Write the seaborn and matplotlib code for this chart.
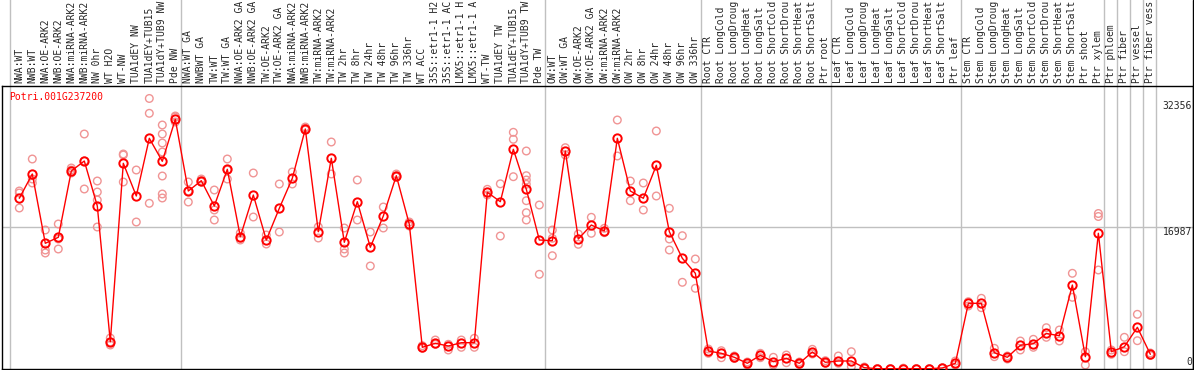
import pandas as pd
import matplotlib
matplotlib.use("Agg")
import matplotlib.pyplot as plt
import seaborn as sns

sns.set_style("white")
plt.rcParams["font.family"] = ["DejaVu Sans Mono"]

gene = "Potri.001G237200"

samples = [
    "NWA:WT", "NWB:WT", "NWA:OE-ARK2", "NWB:OE-ARK2", "NWA:miRNA-ARK2", "NWB:miRNA-ARK2",
    "NW 0hr", "WT H2O", "WT-NW", "TUA1dEY NW", "TUA1dEY+TUB15", "TUA1dY+TUB9 NW", "Pde NW",
    "NWA:WT GA", "NWBWT GA", "TW:WT", "TW:WT GA", "NWA:OE-ARK2 GA", "NWB:OE-ARK2 GA",
    "TW:OE-ARK2", "TW:OE-ARK2 GA", "NWA:miRNA-ARK2", "NWB:miRNA-ARK2", "TW:miRNA-ARK2",
    "TW:miRNA-ARK2", "TW 2hr", "TW 8hr", "TW 24hr", "TW 48hr", "TW 96hr", "TW 336hr",
    "WT ACC", "35S::etr1-1 H2", "35S::etr1-1 AC", "LMX5::etr1-1 H", "LMX5::etr1-1 A",
    "WT-TW", "TUA1dEY TW", "TUA1dEY+TUB15", "TUA1dY+TUB9 TW", "Pde TW",
    "OW:WT", "OW:WT GA", "OW:OE-ARK2", "OW:OE-ARK2 GA", "OW:miRNA-ARK2", "OW:miRNA-ARK2",
    "OW 2hr", "OW 8hr", "OW 24hr", "OW 48hr", "OW 96hr", "OW 336hr",
    "Root CTR", "Root LongCold", "Root LongDroug", "Root LongHeat", "Root LongSalt",
    "Root ShortCold", "Root ShortDrou", "Root ShortHeat", "Root ShortSalt", "Ptr root",
    "Leaf CTR", "Leaf LongCold", "Leaf LongDroug", "Leaf LongHeat", "Leaf LongSalt",
    "Leaf ShortCold", "Leaf ShortDrou", "Leaf ShortHeat", "Leaf ShortSalt", "Ptr leaf",
    "Stem CTR", "Stem LongCold", "Stem LongDroug", "Stem LongHeat", "Stem LongSalt",
    "Stem ShortCold", "Stem ShortDrou", "Stem ShortHeat", "Stem ShortSalt", "Ptr shoot",
    "Ptr xylem", "Ptr phloem", "Ptr fiber", "Ptr vessel", "Ptr fiber vess",
]

means = [
    20416, 23322, 15034, 15751, 23681, 24877, 19495, 3265, 24602, 20691, 27592, 24841, 29864,
    21289, 22521, 19495, 23884, 15823, 20810, 15428, 19220, 22808, 28704, 16421, 25200,
    15153, 20009, 14555, 18299, 23119, 17306, 2595, 3074, 2751, 3145, 3145,
    21133, 20009, 26276, 21492, 15428,
    15345, 26073, 15548, 17222, 16505, 27592, 21289, 20416, 24363, 16421, 13240, 11446,
    2153, 1878, 1399, 682, 1639, 873, 1280, 682, 2033, 801,
    957, 957, 155, 36, 36, 50, 36, 36, 120, 682,
    7858, 7858, 1949, 1399, 2834, 3026, 4246, 3983, 10046, 1471,
    16230, 2069, 2667, 4987, 1758,
]

replicates = [
    [21289, 21050, 19256], [25116, 22724, 22246], [16624, 14232, 13874], [17342, 14352, 15548],
    [24040, 23800, 23442], [28106, 21528, 24877], [22485, 21169, 20212, 16983], [3708, 3229, 2870],
    [25714, 25594, 22365], [23800, 17581], [32356, 30582, 19818],
    [29182, 28106, 27030, 25953, 23083, 20930, 20452], [30259, 30139, 29541],
    [22365, 19973, 21289], [22724, 22485, 22365], [21408, 19016, 17820], [25116, 22724, 23800],
    [16266, 15668, 15428], [23442, 18179], [16026, 14950], [22126, 16385], [23561, 22126],
    [28943, 28824, 28584], [17000, 15668], [27149, 23322], [16864, 14352, 13874],
    [22604, 17820], [16385, 12319], [19375, 16864], [23322, 23083, 22963], [17581, 17103],
    [2787, 2476], [3468, 2954], [2954, 2272], [3468, 2595], [3672, 2595],
    [21492, 20810], [22150, 15907], [28309, 27472, 22999],
    [26073, 23119, 22604, 22090, 20129, 18693, 17820], [19614, 11326],
    [16624, 15632, 13549], [26467, 25594], [16146, 14914], [18143, 16230], [16828, 16301],
    [29780, 25475], [22485, 20129], [22246, 19016], [28465, 20691], [19220, 15548, 14232],
    [15943, 10369], [13156, 9652],
    [2392, 1878], [2189, 1351], [1555, 1256], [837, 478], [1878, 1351], [1399, 478],
    [1674, 753], [837, 538], [2356, 1794], [993, 682],
    [1555, 682], [2069, 275], [239, 60], [20, 50], [20, 50], [60, 100], [20, 50], [20, 50],
    [100, 150], [957, 478],
    [8049, 7535], [8456, 7331], [2476, 1471], [1555, 1196], [3349, 2272], [3552, 2595],
    [4939, 3791], [4664, 3349], [11446, 8575], [2069, 478],
    [18598, 18239, 11840], [2272, 1758], [3791, 2069], [6542, 3385], [1914, 1615],
]

axis_labels = [32356, 16987, 0]
group_edges = [-0.68, 12.4, 40.4, 52.4, 62.4, 72.4, 83.4, 84.4, 85.4, 86.4, 87.4]

df_mean = pd.DataFrame({"pos": range(len(samples)), "value": means})
df_rep = pd.DataFrame(
    [(i, v) for i, reps in enumerate(replicates) for v in reps], columns=["pos", "value"]
)

W, H = 1194, 370
fig = plt.figure(figsize=(W / 100, H / 100), dpi=100)
ax = fig.add_axes([1.5 / W, 1 / H, 1191.5 / W, 283 / H])

for x in group_edges:
    ax.axvline(x, ymin=0, ymax=H / 283, color="#c0c0c0", lw=1.0, clip_on=False, zorder=0)
ax.axhline(16987, color="#c0c0c0", lw=1.0, zorder=0)

sns.scatterplot(data=df_rep, x="pos", y="value", ax=ax, marker="o", s=30,
                facecolors="none", edgecolor="#f09494", linewidth=1.0, zorder=2)
sns.lineplot(data=df_mean, x="pos", y="value", ax=ax, color="red", lw=1.0,
             marker="o", markersize=6, markerfacecolor="none", markeredgecolor="red",
             markeredgewidth=1.4, zorder=3)

ax.set_xlim(-1.369, 90.28)
ax.set_ylim(0, 33847)
ax.set_xlabel("")
ax.set_ylabel("")
ax.set_yticks([])
ax.xaxis.tick_top()
ax.set_xticks(range(len(samples)))
ax.set_xticklabels(samples, rotation=90, fontsize=7)
ax.tick_params(axis="x", length=0, pad=2)

for spine in ax.spines.values():
    spine.set_color("black")
    spine.set_linewidth(1.0)

ax.annotate(str(axis_labels[0]), xy=(1, axis_labels[0]), xycoords=("axes fraction", "data"),
            xytext=(-1, -3), textcoords="offset pixels", ha="right", va="top", fontsize=7)
ax.annotate(str(axis_labels[1]), xy=(1, axis_labels[1]), xycoords=("axes fraction", "data"),
            xytext=(-1, 0), textcoords="offset pixels", ha="right", va="top", fontsize=7)
ax.annotate(str(axis_labels[2]), xy=(1, axis_labels[2]), xycoords=("axes fraction", "data"),
            xytext=(-1, 2), textcoords="offset pixels", ha="right", va="bottom", fontsize=7)

ax.text(0.0066, 0.98, gene, transform=ax.transAxes, color="red", fontsize=7,
        ha="left", va="top")

fig.add_artist(plt.Line2D([1192.5 / W, 1192.5 / W], [0, 1], color="black", lw=1.0))

fig.savefig("out.png", dpi=100)
